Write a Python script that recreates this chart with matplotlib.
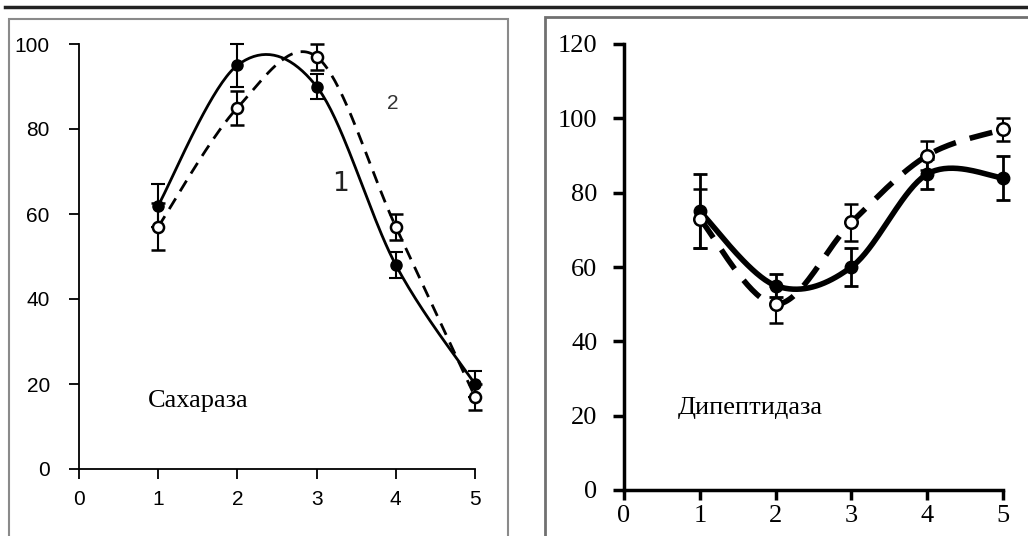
import numpy as np
import matplotlib
matplotlib.use("Agg")
import matplotlib.pyplot as plt
from matplotlib.patches import Rectangle
from matplotlib.lines import Line2D

W, H = 1028, 536

# data
x = [1, 2, 3, 4, 5]

sucrase_1 = [62, 95, 90, 48, 20]
sucrase_1_err = [5, 5, 3, 3, 3]
sucrase_2 = [57, 85, 97, 57, 17]
sucrase_2_err = [5.5, 4, 3, 3, 3]

dipep_1 = [75, 55, 60, 85, 84]
dipep_1_err = [10, 3, 5, 4, 6]
dipep_2 = [73, 50, 72, 90, 97]
dipep_2_err = [8, 5, 5, 4, 3]


def smooth(xs, ys, n=40):
    # Excel-like smoothed line (Catmull-Rom as cubic Bezier)
    p = np.column_stack([xs, ys]).astype(float)
    p = np.vstack([p[0], p, p[-1]])
    out = []
    t = np.linspace(0, 1, n)[:, None]
    for i in range(1, len(p) - 2):
        p0, p1 = p[i], p[i + 1]
        b1 = p0 + (p[i + 1] - p[i - 1]) / 6
        b2 = p1 - (p[i + 2] - p[i]) / 6
        seg = ((1 - t) ** 3) * p0 + 3 * ((1 - t) ** 2) * t * b1 + 3 * (1 - t) * t ** 2 * b2 + t ** 3 * p1
        out.append(seg)
    out = np.vstack(out)
    return out[:, 0], out[:, 1]


def box(x0, y0, x1, y1):
    return [x0 / W, 1 - y1 / H, (x1 - x0) / W, (y1 - y0) / H]


def unclip(eb):
    for art in eb.lines[1] + eb.lines[2] + (eb.lines[0],):
        art.set_clip_on(False)


fig = plt.figure(figsize=(W / 100, H / 100), dpi=100)

# frame decoration
fig.add_artist(Line2D([5 / W, 1], [1 - 6.5 / H, 1 - 6.5 / H], color='#222222', lw=2.5))
fig.add_artist(Rectangle((9 / W, -0.01), (508 - 9) / W, 1 - 19 / H + 0.01, fill=False,
                         ec='#8a8a8a', lw=1.5, transform=fig.transFigure))
fig.add_artist(Rectangle((545 / W, -0.01), 0.5, 1 - 17 / H + 0.01, fill=False,
                         ec='#707070', lw=2, transform=fig.transFigure))

# ---- left panel: Сахараза
ax1 = fig.add_axes(box(79, 44, 475, 469))
ax1.set_xlim(0, 5)
ax1.set_ylim(0, 100)
sx, sy = smooth(x, sucrase_1)
ax1.plot(sx, sy, color='black', lw=2, clip_on=False)
sx, sy = smooth(x, sucrase_2)
ax1.plot(sx, sy, color='black', lw=2, dashes=(4.5, 3), clip_on=False)
eb = ax1.errorbar(x, sucrase_1, yerr=sucrase_1_err, fmt='o', color='black', ms=8,
                  capsize=5, elinewidth=1.5, capthick=1.5)
unclip(eb)
eb = ax1.errorbar(x, sucrase_2, yerr=sucrase_2_err, fmt='o', color='black', mfc='white', ms=8,
                  mew=1.8, capsize=5, elinewidth=1.5, capthick=1.5)
unclip(eb)
ax1.set_xticks([0, 1, 2, 3, 4, 5])
ax1.set_yticks([0, 20, 40, 60, 80, 100])
for s in ['top', 'right']:
    ax1.spines[s].set_visible(False)
for s in ['left', 'bottom']:
    ax1.spines[s].set_linewidth(1.3)
ax1.tick_params(axis='y', length=7, width=1.3, pad=14, labelsize=15)
ax1.tick_params(axis='x', length=7, width=1.3, pad=8, labelsize=15)
for lab in ax1.get_xticklabels() + ax1.get_yticklabels():
    lab.set_family('Liberation Sans')
ax1.text(0.87, 16, 'Сахараза', family='Liberation Serif', fontsize=19, va='center')
ax1.text(3.89, 86, '2', family='Liberation Sans', fontsize=15, color='#333333', va='center')
ax1.text(3.2, 67, '1', family='DejaVu Sans', fontsize=19, color='#222222', va='center')
ax1.patch.set_alpha(0)

# ---- right panel: Дипептидаза
ax2 = fig.add_axes(box(624, 44, 1003, 490))
ax2.set_xlim(0, 5)
ax2.set_ylim(0, 120)
sx, sy = smooth(x, dipep_1)
ax2.plot(sx, sy, color='black', lw=4, clip_on=False)
sx, sy = smooth(x, dipep_2)
ax2.plot(sx, sy, color='black', lw=4, dashes=(4.2, 2.6), clip_on=False)
eb = ax2.errorbar(x, dipep_1, yerr=dipep_1_err, fmt='o', color='black', ms=9,
                  capsize=5, elinewidth=2, capthick=2)
unclip(eb)
eb = ax2.errorbar(x, dipep_2, yerr=dipep_2_err, fmt='o', color='black', mfc='white', ms=9,
                  mew=1.8, capsize=5, elinewidth=1.5, capthick=1.5)
unclip(eb)
ax2.set_xticks([0, 1, 2, 3, 4, 5])
ax2.set_yticks([0, 20, 40, 60, 80, 100, 120])
for s in ['top', 'right']:
    ax2.spines[s].set_visible(False)
for s in ['left', 'bottom']:
    ax2.spines[s].set_linewidth(2.5)
ax2.tick_params(axis='y', length=8, width=2.5, pad=11, labelsize=19)
ax2.tick_params(axis='x', length=7, width=2.5, pad=4, labelsize=19)
for lab in ax2.get_xticklabels() + ax2.get_yticklabels():
    lab.set_family('Liberation Serif')
ax2.text(0.71, 22, 'Дипептидаза', family='Liberation Serif', fontsize=19, va='center')
ax2.patch.set_alpha(0)

fig.savefig('out.png', dpi=100)
